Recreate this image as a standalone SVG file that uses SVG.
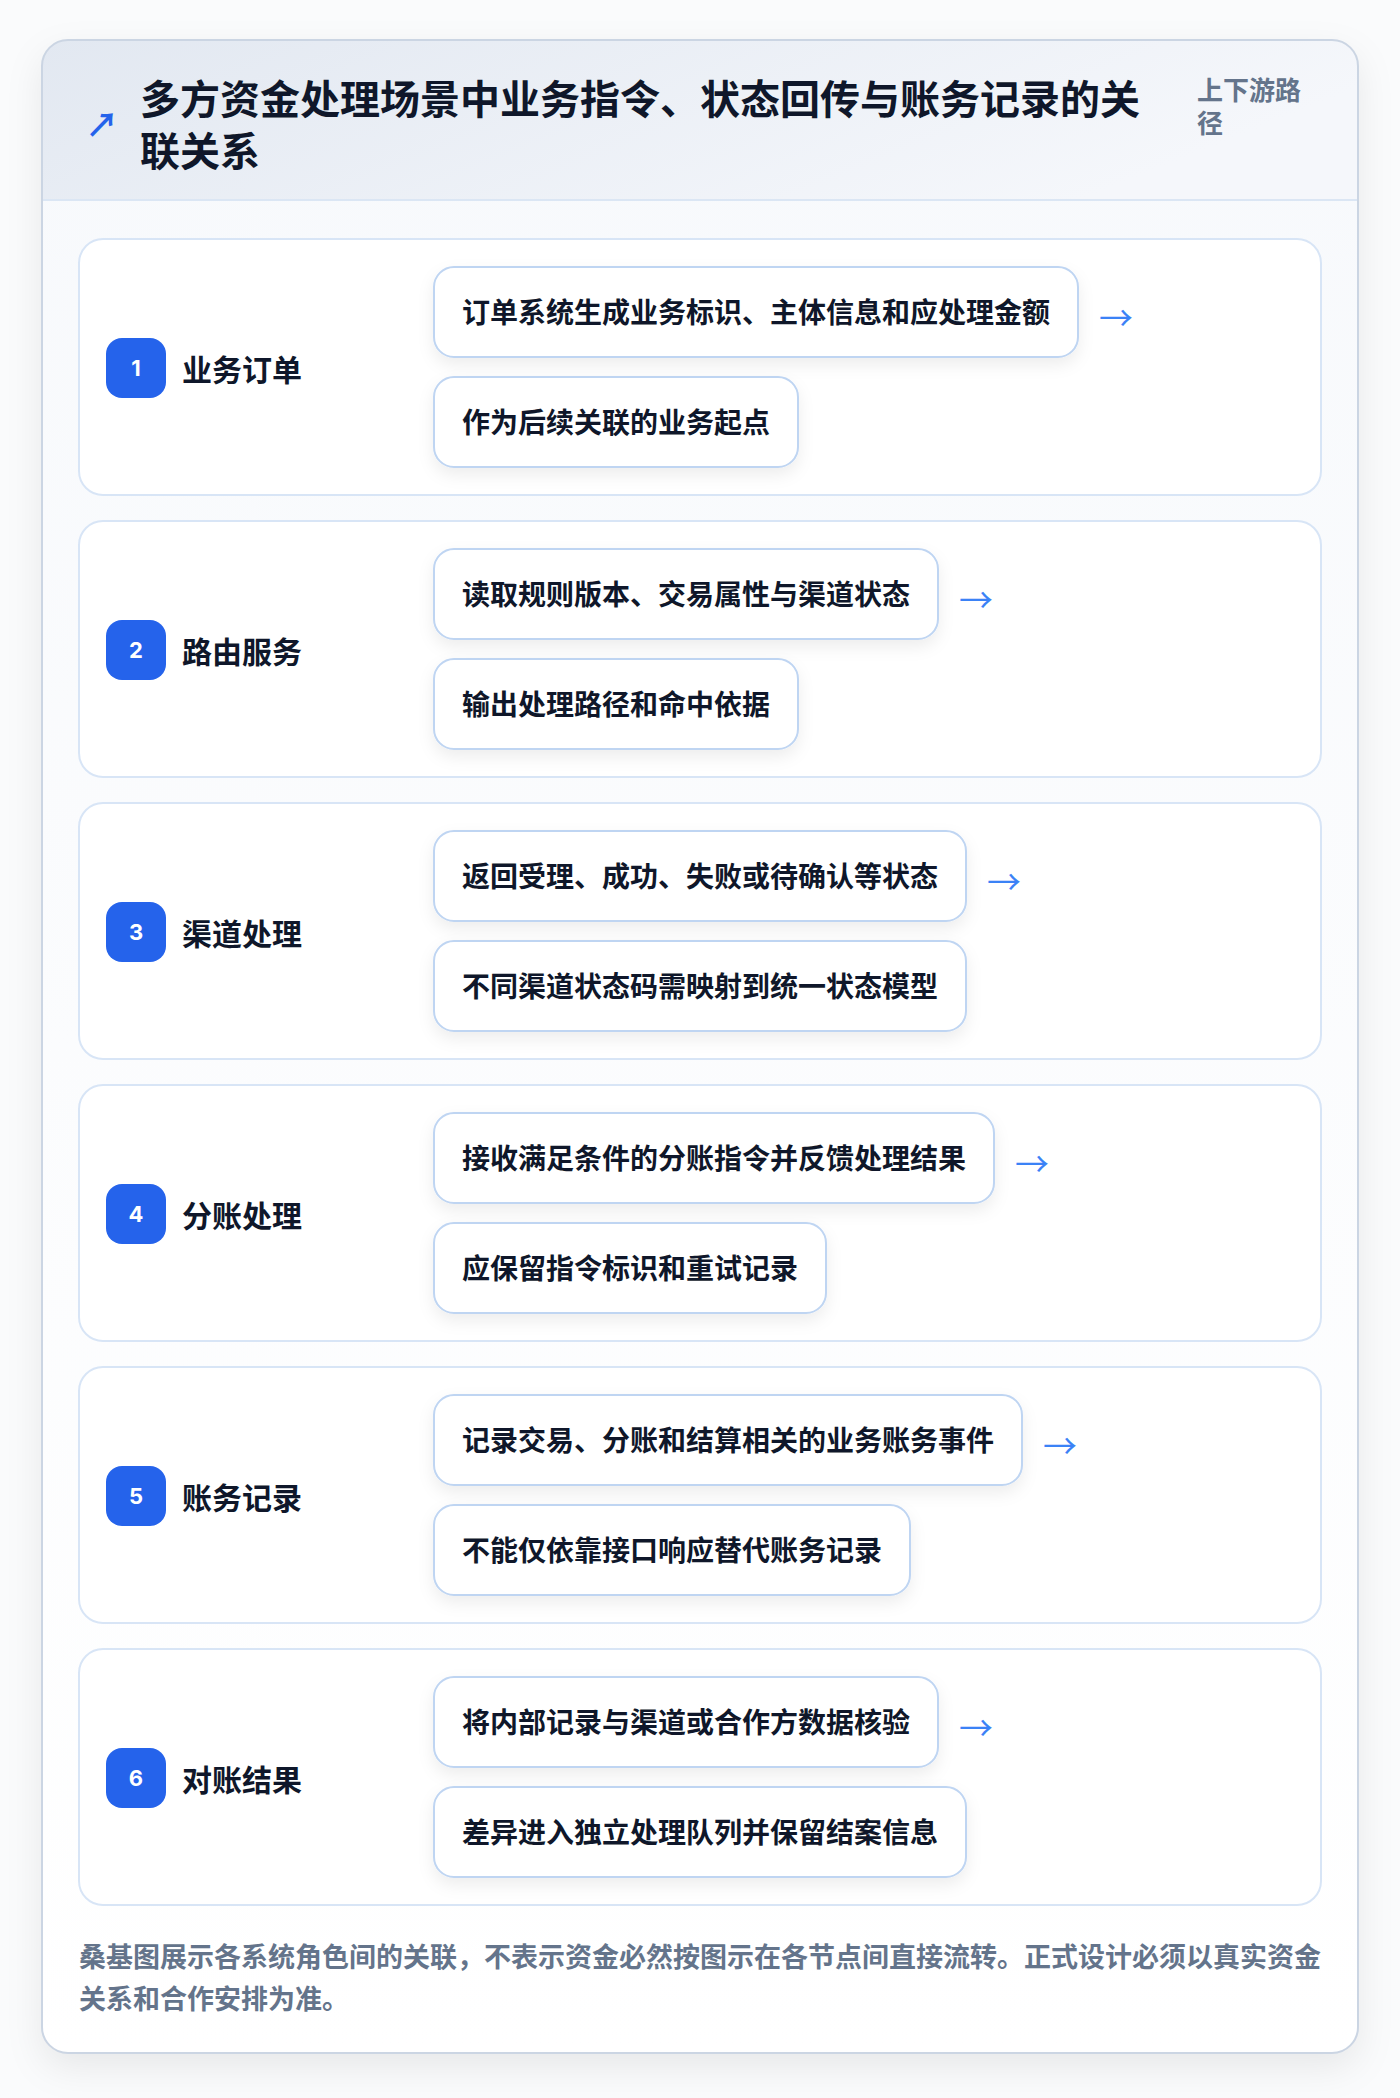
<svg xmlns="http://www.w3.org/2000/svg" width="1400" height="2098" viewBox="0 0 1400 2098">
<defs>
<linearGradient id="hdr" x1="0" y1="0" x2="1" y2="0.3"><stop offset="0" stop-color="#e2e8f1"/><stop offset="1" stop-color="#f5f7fb"/></linearGradient>
<linearGradient id="body" x1="0" y1="0" x2="0" y2="1"><stop offset="0" stop-color="#f7f9fc"/><stop offset="1" stop-color="#ffffff"/></linearGradient>
<filter id="cardShadow" x="-10%" y="-10%" width="120%" height="120%"><feDropShadow dx="0" dy="14" stdDeviation="18" flood-color="#0f172a" flood-opacity="0.08"/></filter>
<filter id="pillShadow" x="-10%" y="-20%" width="125%" height="160%"><feDropShadow dx="0" dy="7" stdDeviation="8" flood-color="#0f172a" flood-opacity="0.07"/></filter>
<clipPath id="cardClip"><rect x="42" y="40" width="1316" height="2013" rx="26"/></clipPath>
<style>
.t{font-family:"Noto Sans CJK SC","Noto Sans",sans-serif;font-weight:700}
.title{font-size:40px;fill:#0f172a}
.sub{font-size:26px;fill:#64748b}
.row{fill:#ffffff;stroke:#d8e5f6;stroke-width:2}
.badge{fill:#2563eb}
.num{font-size:22px;fill:#ffffff;text-anchor:middle;font-family:"Inter","Noto Sans",sans-serif;font-weight:700}
.lbl{font-size:30px;fill:#0f172a}
.pill{fill:#ffffff;stroke:#bfd5f2;stroke-width:2}
.ptxt{font-size:28px;fill:#0f172a}
.arr{font-size:34px;fill:#3b82f6;font-family:"Noto Sans CJK SC","Noto Sans",sans-serif;font-weight:400}
.foot{font-size:27px;fill:#64748b}
</style>
</defs>
<rect width="1400" height="2098" fill="#fafbfc"/>
<g id="card">
<rect x="42" y="40" width="1316" height="2013" rx="26" fill="url(#body)" filter="url(#cardShadow)"/>
<g clip-path="url(#cardClip)">
<rect x="42" y="40" width="1316" height="160" fill="url(#hdr)"/>
<line x1="42" y1="200" x2="1358" y2="200" stroke="#dbe6f4" stroke-width="2"/>
</g>
<rect x="42" y="40" width="1316" height="2013" rx="26" fill="none" stroke="#cbd5e3" stroke-width="2"/>
</g>
<g id="header">
<text class="t" x="102" y="137" font-size="33" fill="#2563eb" text-anchor="middle">↗</text>
<text class="t title" x="140" y="114">多方资金处理场景中业务指令、状态回传与账务记录的关<tspan x="140" y="166">联关系</tspan></text>
<text class="t sub" x="1197" y="100">上下游路<tspan x="1197" y="133">径</tspan></text>
</g>
<g id="node1" transform="translate(0,239)">
<rect class="row" x="79" y="0" width="1242" height="256" rx="24"/>
<rect class="badge" x="106" y="99" width="60" height="60" rx="16"/>
<text class="num" x="136" y="137">1</text>
<text class="t lbl" x="182" y="142">业务订单</text>
<rect class="pill" x="434" y="28" width="644" height="90" rx="20" filter="url(#pillShadow)"/>
<text class="t ptxt" x="462" y="84">订单系统生成业务标识、主体信息和应处理金额</text>
<rect class="pill" x="434" y="138" width="364" height="90" rx="20" filter="url(#pillShadow)"/>
<text class="t ptxt" x="462" y="194">作为后续关联的业务起点</text>
</g>
<g id="node2" transform="translate(0,521)">
<rect class="row" x="79" y="0" width="1242" height="256" rx="24"/>
<rect class="badge" x="106" y="99" width="60" height="60" rx="16"/>
<text class="num" x="136" y="137">2</text>
<text class="t lbl" x="182" y="142">路由服务</text>
<rect class="pill" x="434" y="28" width="504" height="90" rx="20" filter="url(#pillShadow)"/>
<text class="t ptxt" x="462" y="84">读取规则版本、交易属性与渠道状态</text>
<rect class="pill" x="434" y="138" width="364" height="90" rx="20" filter="url(#pillShadow)"/>
<text class="t ptxt" x="462" y="194">输出处理路径和命中依据</text>
</g>
<g id="node3" transform="translate(0,803)">
<rect class="row" x="79" y="0" width="1242" height="256" rx="24"/>
<rect class="badge" x="106" y="99" width="60" height="60" rx="16"/>
<text class="num" x="136" y="137">3</text>
<text class="t lbl" x="182" y="142">渠道处理</text>
<rect class="pill" x="434" y="28" width="532" height="90" rx="20" filter="url(#pillShadow)"/>
<text class="t ptxt" x="462" y="84">返回受理、成功、失败或待确认等状态</text>
<rect class="pill" x="434" y="138" width="532" height="90" rx="20" filter="url(#pillShadow)"/>
<text class="t ptxt" x="462" y="194">不同渠道状态码需映射到统一状态模型</text>
</g>
<g id="node4" transform="translate(0,1085)">
<rect class="row" x="79" y="0" width="1242" height="256" rx="24"/>
<rect class="badge" x="106" y="99" width="60" height="60" rx="16"/>
<text class="num" x="136" y="137">4</text>
<text class="t lbl" x="182" y="142">分账处理</text>
<rect class="pill" x="434" y="28" width="560" height="90" rx="20" filter="url(#pillShadow)"/>
<text class="t ptxt" x="462" y="84">接收满足条件的分账指令并反馈处理结果</text>
<rect class="pill" x="434" y="138" width="392" height="90" rx="20" filter="url(#pillShadow)"/>
<text class="t ptxt" x="462" y="194">应保留指令标识和重试记录</text>
</g>
<g id="node5" transform="translate(0,1367)">
<rect class="row" x="79" y="0" width="1242" height="256" rx="24"/>
<rect class="badge" x="106" y="99" width="60" height="60" rx="16"/>
<text class="num" x="136" y="137">5</text>
<text class="t lbl" x="182" y="142">账务记录</text>
<rect class="pill" x="434" y="28" width="588" height="90" rx="20" filter="url(#pillShadow)"/>
<text class="t ptxt" x="462" y="84">记录交易、分账和结算相关的业务账务事件</text>
<rect class="pill" x="434" y="138" width="476" height="90" rx="20" filter="url(#pillShadow)"/>
<text class="t ptxt" x="462" y="194">不能仅依靠接口响应替代账务记录</text>
</g>
<g id="node6" transform="translate(0,1649)">
<rect class="row" x="79" y="0" width="1242" height="256" rx="24"/>
<rect class="badge" x="106" y="99" width="60" height="60" rx="16"/>
<text class="num" x="136" y="137">6</text>
<text class="t lbl" x="182" y="142">对账结果</text>
<rect class="pill" x="434" y="28" width="504" height="90" rx="20" filter="url(#pillShadow)"/>
<text class="t ptxt" x="462" y="84">将内部记录与渠道或合作方数据核验</text>
<rect class="pill" x="434" y="138" width="532" height="90" rx="20" filter="url(#pillShadow)"/>
<text class="t ptxt" x="462" y="194">差异进入独立处理队列并保留结案信息</text>
</g>
<g id="connectors">
<text class="arr" x="1099" y="330.5">→</text>
<text class="arr" x="959" y="612.5">→</text>
<text class="arr" x="987" y="894.5">→</text>
<text class="arr" x="1015" y="1176.5">→</text>
<text class="arr" x="1043" y="1458.5">→</text>
<text class="arr" x="959" y="1740.5">→</text>
</g>
<g id="footer">
<text class="t foot" x="79" y="1967">桑基图展示各系统角色间的关联，不表示资金必然按图示在各节点间直接流转。正式设计必须以真实资金<tspan x="79" y="2009">关系和合作安排为准。</tspan></text>
</g>
</svg>
